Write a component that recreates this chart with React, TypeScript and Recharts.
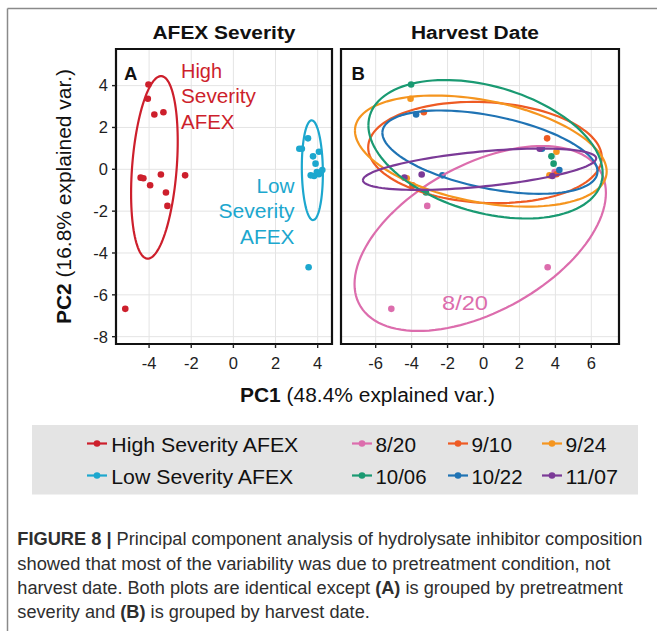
import React from 'react';
import { ScatterChart, Scatter, XAxis, YAxis, CartesianGrid, ReferenceArea } from 'recharts';

// ---------- data ----------
const severityGroups = ['High Severity AFEX', 'Low Severity AFEX'];
const severityColors = ['#CD1F2C', '#1CA7CE'];
const harvestDates = ['8/20', '9/10', '9/24', '10/06', '10/22', '11/07'];
const dateColors = ['#DC6DAD', '#EE5B24', '#F5951F', '#1A9A72', '#1F73B4', '#7B3A97'];

const pc1Scores = [-4.03, -4.06, -3.75, -3.32, -4.40, -4.27, -3.95, -3.44, -3.20, -3.13, -2.29, -5.13,
  3.13, 3.25, 3.54, 4.06, 3.78, 3.90, 3.67, 3.83, 4.06, 4.22, 3.96, 3.57];
const pc2Scores = [4.05, 3.37, 2.62, 2.73, -0.40, -0.43, -0.76, -0.25, -1.11, -1.75, -0.29, -6.67,
  0.98, 0.98, 1.48, 0.84, 0.62, 0.27, -0.29, -0.32, -0.24, -0.03, -0.13, -4.68];
const sampleSeverity = [
  'High Severity AFEX', 'High Severity AFEX', 'High Severity AFEX', 'High Severity AFEX',
  'High Severity AFEX', 'High Severity AFEX', 'High Severity AFEX', 'High Severity AFEX',
  'High Severity AFEX', 'High Severity AFEX', 'High Severity AFEX', 'High Severity AFEX',
  'Low Severity AFEX', 'Low Severity AFEX', 'Low Severity AFEX', 'Low Severity AFEX',
  'Low Severity AFEX', 'Low Severity AFEX', 'Low Severity AFEX', 'Low Severity AFEX',
  'Low Severity AFEX', 'Low Severity AFEX', 'Low Severity AFEX', 'Low Severity AFEX'];
const sampleHarvest = ['10/06', '9/24', '10/22', '9/10', '11/07', '9/24', '9/10', '11/07', '10/06', '8/20', '10/22', '8/20',
  '11/07', '10/22', '9/10', '9/24', '10/06', '10/06', '9/24', '11/07', '9/10', '10/22', '8/20', '8/20'];

const xTicksA = [-4, -2, 0, 2, 4];
const xTicksB = [-6, -4, -2, 0, 2, 4, 6];
const yTicks = [-8, -6, -4, -2, 0, 2, 4];
const xDomainA: [number, number] = [-5.57, 4.68];
const xDomainB: [number, number] = [-7.93, 7.54];
const yDomain: [number, number] = [-8.35, 5.75];
const ellipseProb = 0.68;

const captionLines = [
  [{ t: 'FIGURE 8 | ', b: true }, { t: 'Principal component analysis of hydrolysate inhibitor composition', b: false }],
  [{ t: 'showed that most of the variability was due to pretreatment condition, not', b: false }],
  [{ t: 'harvest date. Both plots are identical except ', b: false }, { t: '(A)', b: true }, { t: ' is grouped by pretreatment', b: false }],
  [{ t: 'severity and ', b: false }, { t: '(B)', b: true }, { t: ' is grouped by harvest date.', b: false }],
];

// ---------- helpers ----------
const FONT = '"Liberation Sans", Arial, Helvetica, sans-serif';

type Pt = { x: number; y: number };

function groupPoints(key: string[], label: string): Pt[] {
  const out: Pt[] = [];
  key.forEach((k, i) => { if (k === label) out.push({ x: pc1Scores[i], y: pc2Scores[i] }); });
  return out;
}

// normal-theory data ellipse (as in ggbiplot)
function dataEllipse(pts: Pt[], n = 120): Pt[] {
  const k = pts.length;
  const mx = pts.reduce((s, p) => s + p.x, 0) / k;
  const my = pts.reduce((s, p) => s + p.y, 0) / k;
  let sxx = 0, syy = 0, sxy = 0;
  pts.forEach(p => { sxx += (p.x - mx) ** 2; syy += (p.y - my) ** 2; sxy += (p.x - mx) * (p.y - my); });
  sxx /= k - 1; syy /= k - 1; sxy /= k - 1;
  const a = Math.sqrt(sxx);
  const b = sxy / a;
  const c = Math.sqrt(Math.max(syy - b * b, 0));
  const ed = Math.sqrt(-2 * Math.log(1 - ellipseProb));
  const out: Pt[] = [];
  for (let i = 0; i <= n; i++) {
    const t = -Math.PI + (2 * Math.PI * i) / n;
    out.push({ x: mx + ed * a * Math.cos(t), y: my + ed * (b * Math.cos(t) + c * Math.sin(t)) });
  }
  return out;
}

const dotShape = (color: string) => (props: any) => (
  <circle cx={props.cx} cy={props.cy} r={3.3} fill={color} />
);
const noShape = () => <g />;

const tickStyle = { fontSize: 16.5, fill: '#1e1e1e', fontFamily: FONT };

function Panel(props: {
  left: number; width: number; marginLeft: number; marginRight: number; showY: boolean;
  xDomain: [number, number]; xTicks: number[]; labels: string[]; colors: string[]; key2: string[];
}) {
  const { left, width, marginLeft, marginRight, showY, xDomain, xTicks, labels, colors, key2 } = props;
  return (
    <div style={{ position: 'absolute', left, top: 0 }}>
      <ScatterChart width={width} height={420} margin={{ top: 49, right: marginRight, bottom: 46, left: marginLeft }}>
        <CartesianGrid stroke="#e4e4e4" strokeWidth={1} horizontalValues={yTicks} verticalValues={xTicks} />
        <XAxis type="number" dataKey="x" domain={xDomain} ticks={xTicks} allowDataOverflow interval={0}
          axisLine={false} tickLine={{ stroke: '#222', strokeWidth: 1.4 }} tickSize={4} tickMargin={9}
          tick={tickStyle} height={30} />
        <YAxis type="number" dataKey="y" domain={yDomain} ticks={yTicks} allowDataOverflow interval={0}
          hide={!showY} axisLine={false} tickLine={{ stroke: '#222', strokeWidth: 1.4 }} tickSize={4} tickMargin={4}
          tick={tickStyle} width={60} />
        {labels.map((lab, i) => (
          <Scatter key={'p' + lab} data={groupPoints(key2, lab)} fill={colors[i]} shape={dotShape(colors[i])}
            isAnimationActive={false} />
        ))}
        {labels.map((lab, i) => (
          <Scatter key={'e' + lab} data={dataEllipse(groupPoints(key2, lab))} fill={colors[i]}
            line={{ stroke: colors[i], strokeWidth: 2.2, fill: 'none' }} lineJointType="linear" shape={noShape}
            isAnimationActive={false} />
        ))}
        <ReferenceArea x1={xDomain[0]} x2={xDomain[1]} y1={yDomain[0]} y2={yDomain[1]} fill="none" fillOpacity={0}
          stroke="#111" strokeWidth={2.2} ifOverflow="visible" />
      </ScatterChart>
    </div>
  );
}

function T(p: { x: number; y: number; s: number; w?: string | number; a?: 'start' | 'middle' | 'end'; c?: string; len?: number; children: any; transform?: string }) {
  return (
    <text x={p.x} y={p.y} fontSize={p.s} fontWeight={p.w || 'normal'} textAnchor={p.a || 'start'} fill={p.c || '#111'}
      fontFamily={FONT} textLength={p.len} lengthAdjust={p.len ? 'spacingAndGlyphs' : undefined} transform={p.transform}>
      {p.children}
    </text>
  );
}

export default function App() {
  const legendLeftX = [97];
  const legendRightX = [362, 458, 552];
  const rowMarkY = [443.5, 475.5];
  const rowTextY = [452, 483.5];
  const legendLeftLens = [187, 182];
  const legendRightLens = [40.5, 40.5, 41, 51, 51, 52.5];
  const captionLens = [625, 593, 605.5, 352.5];
  const captionY = [545, 569.5, 594, 618.3];

  return (
    <div style={{ position: 'absolute', left: 0, top: 0, width: 657, height: 631, background: '#fff', overflow: 'hidden' }}>
      <Panel left={0} width={340} marginLeft={56} marginRight={8} showY xDomain={xDomainA} xTicks={xTicksA}
        labels={severityGroups} colors={severityColors} key2={sampleSeverity} />
      <Panel left={330} width={300} marginLeft={11} marginRight={11} showY={false} xDomain={xDomainB} xTicks={xTicksB}
        labels={harvestDates} colors={dateColors} key2={sampleHarvest} />
      <svg width={657} height={631} style={{ position: 'absolute', left: 0, top: 0, pointerEvents: 'none' }}>
        {/* outer frame */}
        <line x1={7.5} y1={8.5} x2={657} y2={8.5} stroke="#8a8a8a" strokeWidth={1.5} />
        <line x1={7.5} y1={8.5} x2={7.5} y2={631} stroke="#8a8a8a" strokeWidth={1.5} />

        {/* panel titles */}
        <T x={224} y={38.5} s={18} w="bold" a="middle" len={143}>AFEX Severity</T>
        <T x={475} y={38.5} s={18} w="bold" a="middle" len={128}>Harvest Date</T>
        <T x={124} y={80} s={18.5} w="bold">A</T>
        <T x={351.5} y={80} s={18.5} w="bold">B</T>

        {/* in-plot annotations */}
        <T x={181} y={77.5} s={20.5} c={severityColors[0]} len={41}>High</T>
        <T x={181} y={103.3} s={20.5} c={severityColors[0]} len={75}>Severity</T>
        <T x={181} y={128.5} s={20.5} c={severityColors[0]} len={53.5}>AFEX</T>
        <T x={294.5} y={192.7} s={20.5} a="end" c={severityColors[1]} len={38}>Low</T>
        <T x={294.5} y={218.3} s={20.5} a="end" c={severityColors[1]} len={76}>Severity</T>
        <T x={294.5} y={244} s={20.5} a="end" c={severityColors[1]} len={54.5}>AFEX</T>
        <T x={465} y={310} s={21} a="middle" c={dateColors[0]} len={46}>8/20</T>

        {/* axis titles */}
        <T x={367.5} y={402} s={20} a="middle" len={255}>
          <tspan fontWeight="bold">PC1</tspan> (48.4% explained var.)
        </T>
        <T x={0} y={0} s={20} a="middle" len={255} transform="translate(70.5,196.5) rotate(-90)">
          <tspan fontWeight="bold">PC2</tspan> (16.8% explained var.)
        </T>

        {/* legend */}
        <rect x={32} y={425} width={606} height={69.5} fill="#e4e4e4" />
        {severityGroups.map((g, i) => (
          <g key={g}>
            <line x1={legendLeftX[0] - 10} x2={legendLeftX[0] + 10} y1={rowMarkY[i]} y2={rowMarkY[i]} stroke={severityColors[i]} strokeWidth={2.2} />
            <circle cx={legendLeftX[0]} cy={rowMarkY[i]} r={3.3} fill={severityColors[i]} />
            <T x={111.3} y={rowTextY[i]} s={20} len={legendLeftLens[i]}>{g}</T>
          </g>
        ))}
        {harvestDates.map((d, i) => {
          const col = i % 3;
          const row = Math.floor(i / 3);
          const cx = legendRightX[col];
          return (
            <g key={d}>
              <line x1={cx - 10} x2={cx + 10} y1={rowMarkY[row]} y2={rowMarkY[row]} stroke={dateColors[i]} strokeWidth={2.2} />
              <circle cx={cx} cy={rowMarkY[row]} r={3.3} fill={dateColors[i]} />
              <T x={cx + 13.5} y={rowTextY[row]} s={20} len={legendRightLens[i]}>{d}</T>
            </g>
          );
        })}

        {/* caption */}
        {captionLines.map((line, li) => (
          <T key={li} x={17.3} y={captionY[li]} s={17.5} c="#2e2e2e" len={captionLens[li]}>
            {line.map((seg, si) => (
              <tspan key={si} fontWeight={seg.b ? 'bold' : 'normal'}>{seg.t}</tspan>
            ))}
          </T>
        ))}
      </svg>
    </div>
  );
}
